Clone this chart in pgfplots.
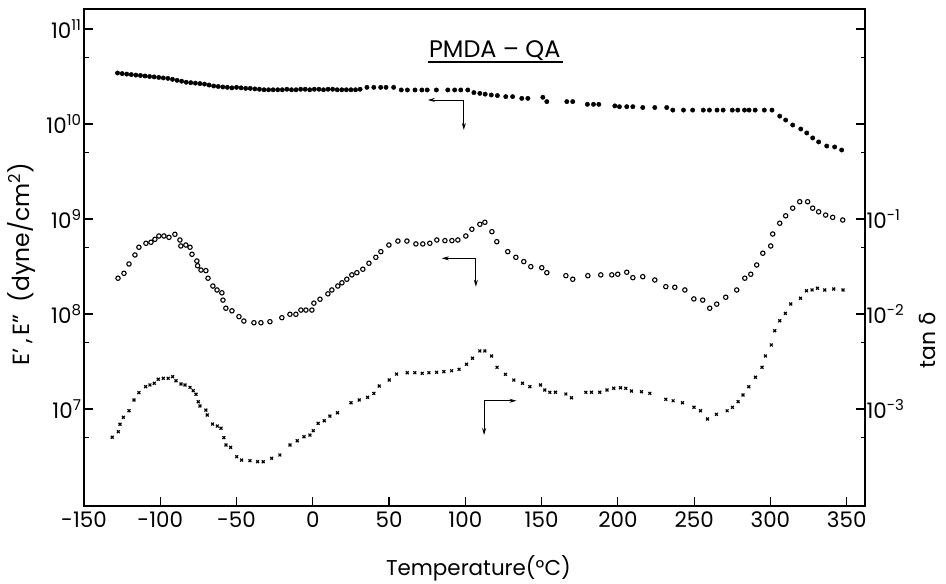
\documentclass[border=0pt]{standalone}
\usepackage{fontspec}
\setmainfont{Poppins}
\newfontfamily\dejavu{DejaVu Sans}
\usepackage{pgfplots}
\pgfplotsset{compat=1.18}
\usetikzlibrary{arrows.meta}
\pgfplotsset{
  myaxisbase/.style={
    width=781bp, height=497bp, scale only axis,
    at={(84bp,78bp)}, anchor=south west,
    xmin=-150, xmax=362,
    axis line style={line width=1.8bp},
    every tick/.style={black, line width=1.2bp},
    major tick length=9bp, minor tick length=4.5bp,
    tick align=inside,
    clip=false,
    ticklabel style={font=\fontsize{21.5}{23}\selectfont},
  }
}
\begin{document}
\begin{tikzpicture}
\path[use as bounding box] (0,0) rectangle (946bp,584bp);
\begin{axis}[ymode=log, myaxisbase,
  ymin=9.53e5, ymax=1.623e11,
  xtick={-150,-100,-50,0,50,100,150,200,250,300,350},
  xticklabels={-150,-100,-50,0,50,100,150,200,250,300,350},
  xtick pos=bottom, ytick pos=left,
  xticklabel style={yshift=-2bp},
  yticklabel style={xshift=1bp},
  ytick={1e7,1e8,1e9,1e10,1e11},
  yticklabels={10\textsuperscript{7},10\textsuperscript{8},10\textsuperscript{9},10\textsuperscript{10},10\textsuperscript{11}},
  minor ytick={5e6,5e7,5e8,5e9,5e10},
  xlabel={Temperature(°C)},
  xlabel style={at={(axis description cs:0.505,-0.1247)}, anchor=center, font=\fontsize{21.5}{24}\selectfont},
  ylabel={E'\,,\,E''\ \ (dyne/cm\textsuperscript{2})},
  ylabel style={at={(axis description cs:-0.0794,0.487)}, anchor=center, font=\fontsize{23.5}{26}\selectfont},
]
% E'
\addplot[only marks, mark=*, mark size=2.2bp, black] coordinates {
(-128,3.44e10)(-125,3.39e10)(-122,3.35e10)(-119,3.31e10)(-116,3.27e10)(-113,3.24e10)(-110,3.20e10)(-107,3.16e10)(-104,3.13e10)(-101,3.09e10)(-98,3.05e10)(-95,3.02e10)(-92,2.95e10)(-89,2.88e10)(-86,2.82e10)(-83,2.75e10)(-80,2.72e10)(-77,2.69e10)(-74,2.66e10)(-71,2.63e10)(-68,2.57e10)(-65,2.51e10)(-62,2.48e10)(-59,2.45e10)(-56,2.43e10)(-53,2.40e10)(-50,2.43e10)(-47,2.40e10)(-44,2.37e10)(-41,2.37e10)(-38,2.34e10)(-35,2.32e10)(-32,2.29e10)(-29,2.29e10)(-26,2.29e10)(-23,2.29e10)(-20,2.29e10)(-17,2.32e10)(-14,2.29e10)(-11,2.29e10)(-8,2.32e10)(-5,2.32e10)(-2,2.29e10)(1,2.32e10)(4,2.32e10)(7,2.29e10)(10,2.32e10)(13,2.32e10)(16,2.29e10)(19,2.29e10)(22,2.29e10)(25,2.29e10)(28,2.29e10)(31,2.32e10)(35.5,2.43e10)(40,2.43e10)(44.5,2.43e10)(48,2.43e10)(53,2.43e10)(58,2.28e10)(62,2.28e10)(67,2.28e10)(71.5,2.28e10)(75,2.28e10)(81,2.28e10)(88.5,2.28e10)(93,2.28e10)(97,2.28e10)(101.6,2.28e10)(105.6,2.14e10)(109.5,2.10e10)(113,2.06e10)(117,2.02e10)(121,1.99e10)(126.5,1.94e10)(131,1.94e10)(137,1.86e10)(141,1.86e10)(150.8,1.91e10)(153.4,1.72e10)(166.5,1.72e10)(170.4,1.72e10)(180,1.61e10)(184,1.61e10)(187.5,1.61e10)(198,1.55e10)(201,1.52e10)(205.8,1.52e10)(209.8,1.52e10)(216.3,1.49e10)(224.2,1.49e10)(232,1.49e10)(236,1.40e10)(243,1.40e10)(249,1.40e10)(256,1.40e10)(260,1.40e10)(265,1.40e10)(269,1.40e10)(275,1.40e10)(278.6,1.40e10)(283,1.40e10)(286,1.40e10)(290,1.40e10)(296,1.40e10)(301,1.40e10)(306.1,1.21e10)(310,1.10e10)(314.6,9.75e9)(319.9,8.85e9)(323.8,8.04e9)(327.7,7.13e9)(331.6,6.47e9)(336.9,5.86e9)(342.1,5.73e9)(346.7,5.32e9)
};
% E''
\addplot[only marks, mark=o, mark size=2.2bp, black, line width=1.1bp] coordinates {
(-127.7,2.38e8)(-123.8,2.68e8)(-120.5,3.36e8)(-116.6,4.18e8)(-114.0,5.04e8)(-109.4,5.55e8)(-106.1,5.69e8)(-103.5,6.11e8)(-100.9,6.62e8)(-97.6,6.62e8)(-94.3,6.41e8)(-90.4,6.90e8)(-87.1,6.01e8)(-86.5,5.20e8)(-83.2,5.32e8)(-80.5,5.04e8)(-79.2,4.25e8)(-76.0,3.61e8)(-75.5,3.22e8)(-73.3,2.90e8)(-70.1,2.86e8)(-68.7,2.38e8)(-65.5,1.97e8)(-62.8,1.79e8)(-59.6,1.67e8)(-58.9,1.40e8)(-57.0,1.15e8)(-53.0,1.08e8)(-48.4,9.38e7)(-45.2,8.43e7)(-38.6,8.09e7)(-34.0,8.09e7)(-28.1,8.30e7)(-20.3,9.14e7)(-15.0,9.93e7)(-11.1,9.93e7)(-7.8,1.10e8)(-4.5,1.10e8)(-0.6,1.10e8)(0.7,1.30e8)(4.7,1.43e8)(9.9,1.63e8)(12.5,1.79e8)(16.4,1.97e8)(19.1,2.13e8)(22.3,2.32e8)(25.6,2.58e8)(28.9,2.72e8)(32.8,2.96e8)(36.8,3.42e8)(41.3,3.95e8)(44.6,4.53e8)(49.9,5.32e8)(55.8,5.86e8)(61.7,5.86e8)(67.6,5.46e8)(72.1,5.46e8)(76.7,5.55e8)(81.3,6.01e8)(86.6,5.92e8)(91.2,5.92e8)(95.1,6.01e8)(100.3,6.62e8)(104.3,7.80e8)(109.5,8.79e8)(112.8,9.23e8)(117.4,7.35e8)(120.6,5.77e8)(127.8,4.53e8)(133.1,3.95e8)(138.3,3.56e8)(142.9,3.15e8)(150.1,3.07e8)(153.4,2.72e8)(165.9,2.53e8)(170.4,2.32e8)(180.3,2.53e8)(188.8,2.58e8)(196.0,2.58e8)(199.9,2.62e8)(205.8,2.75e8)(209.8,2.41e8)(216.3,2.47e8)(224.2,2.28e8)(231.4,1.94e8)(237.3,1.91e8)(243.9,1.79e8)(249.8,1.44e8)(255.6,1.40e8)(260.2,1.15e8)(264.8,1.27e8)(270.7,1.50e8)(277.9,1.79e8)(283.2,2.38e8)(287.1,2.62e8)(291.0,3.28e8)(295.0,4.36e8)(300.2,5.20e8)(301.5,6.95e8)(306.1,9.02e8)(310.0,1.08e9)(314.6,1.30e9)(319.2,1.52e9)(324.4,1.52e9)(327.7,1.30e9)(331.6,1.19e9)(336.2,1.10e9)(340.8,1.04e9)(347.4,9.75e8)
};
% title and annotation arrows
\node[anchor=base, font=\fontsize{24}{26}\selectfont] at (axis cs:119.3,4.95e10) {PMDA -- QA};
\draw[line width=1.2bp] (axis cs:75.4,4.50e10) -- (axis cs:163.9,4.50e10);
\draw[line width=0.9bp, {Stealth[length=7bp,width=4bp]}-{Stealth[length=7bp,width=4bp]}] (axis cs:75.4,1.79e10) -- (axis cs:99,1.79e10) -- (axis cs:99,8.65e9);
\draw[line width=0.9bp, {Stealth[length=7bp,width=4bp]}-{Stealth[length=7bp,width=4bp]}] (axis cs:84.6,3.855e8) -- (axis cs:106.9,3.855e8) -- (axis cs:106.9,1.936e8);
\draw[line width=0.9bp, {Stealth[length=7bp,width=4bp]}-{Stealth[length=7bp,width=4bp]}] (axis cs:112.3,5.32e6) -- (axis cs:112.3,1.222e7) -- (axis cs:133.5,1.222e7);
\end{axis}
\begin{axis}[ymode=log, myaxisbase,
  ymin=9.53e-5, ymax=16.23,
  xtick=\empty,
  ytick pos=right, yticklabel pos=right,
  ytick={1e-3,1e-2,1e-1,1,10},
  yticklabels={10\textsuperscript{-3},10\textsuperscript{-2},10\textsuperscript{-1},,},
  minor ytick={5e-4,5e-3,5e-2,5e-1,5},
  yticklabel style={xshift=-2bp},
  ylabel={\fontsize{22}{24}\selectfont tan {\dejavu δ}},
  ylabel style={at={(axis description cs:1.0805,0.334)}, anchor=center},
]
% tan delta
\addplot[only marks, mark=x, mark size=2bp, black, line width=1.2bp] coordinates {
(-131.5,5.04e-4)(-127.5,5.77e-4)(-126.4,6.90e-4)(-124.2,8.18e-4)(-120.5,9.59e-4)(-117.2,1.245e-3)(-114.0,1.486e-3)(-109.6,1.718e-3)(-106.8,1.791e-3)(-103.9,1.866e-3)(-101.3,2.056e-3)(-98.0,2.104e-3)(-94.8,2.104e-3)(-91.9,2.188e-3)(-89.7,1.986e-3)(-86.4,1.832e-3)(-83.8,1.791e-3)(-80.5,1.690e-3)(-78.4,1.560e-3)(-76.6,1.429e-3)(-75.1,1.194e-3)(-74.0,1.076e-3)(-70.1,9.75e-4)(-69.2,8.65e-4)(-65.7,6.95e-4)(-62.6,6.62e-4)(-60.2,6.27e-4)(-58.3,4.99e-4)(-56.9,4.18e-4)(-53.9,3.95e-4)(-49.9,3.15e-4)(-46.7,2.90e-4)(-41.2,2.86e-4)(-36.2,2.79e-4)(-32.5,2.79e-4)(-27.0,3.03e-4)(-21.6,3.28e-4)(-15.0,4.18e-4)(-10.2,4.63e-4)(-5.8,5.11e-4)(-1.9,5.32e-4)(0.3,5.92e-4)(3.5,7.06e-4)(7.5,7.53e-4)(11.2,8.43e-4)(16.2,9.14e-4)(25.0,1.164e-3)(30.4,1.245e-3)(35.9,1.327e-3)(40.0,1.462e-3)(43.5,1.746e-3)(50.1,2.018e-3)(54.9,2.333e-3)(61.9,2.410e-3)(66.9,2.410e-3)(71.7,2.377e-3)(76.1,2.410e-3)(81.1,2.432e-3)(85.9,2.472e-3)(91.0,2.529e-3)(95.9,2.618e-3)(100.8,2.958e-3)(104.7,3.420e-3)(109.5,4.083e-3)(112.8,4.083e-3)(117.2,3.614e-3)(120.8,2.748e-3)(126.3,2.317e-3)(131.8,2.018e-3)(137.5,1.866e-3)(142.3,1.718e-3)(149.3,1.791e-3)(152.1,1.585e-3)(155.4,1.500e-3)(159.1,1.500e-3)(165.9,1.439e-3)(169.6,1.315e-3)(179.0,1.500e-3)(182.7,1.500e-3)(188.1,1.500e-3)(192.9,1.585e-3)(197.3,1.652e-3)(201.7,1.675e-3)(205.2,1.652e-3)(208.9,1.545e-3)(215.5,1.521e-3)(220.9,1.462e-3)(231.4,1.265e-3)(236.2,1.222e-3)(242.3,1.164e-3)(249.9,1.042e-3)(254.1,9.59e-4)(258.7,7.85e-4)(264.6,8.79e-4)(271.6,9.59e-4)(275.1,1.042e-3)(278.8,1.194e-3)(282.0,1.403e-3)(285.8,1.718e-3)(290.2,2.158e-3)(294.5,2.748e-3)(296.7,3.614e-3)(300.6,4.721e-3)(302.8,6.67e-3)(306.1,8.49e-3)(309.8,1.016e-2)(313.3,1.274e-2)(319.7,1.462e-2)(323.6,1.758e-2)(327.3,1.791e-2)(330.8,1.866e-2)(335.6,1.791e-2)(341.5,1.832e-2)(347.6,1.791e-2)
};
\end{axis}
\end{tikzpicture}
\end{document}
